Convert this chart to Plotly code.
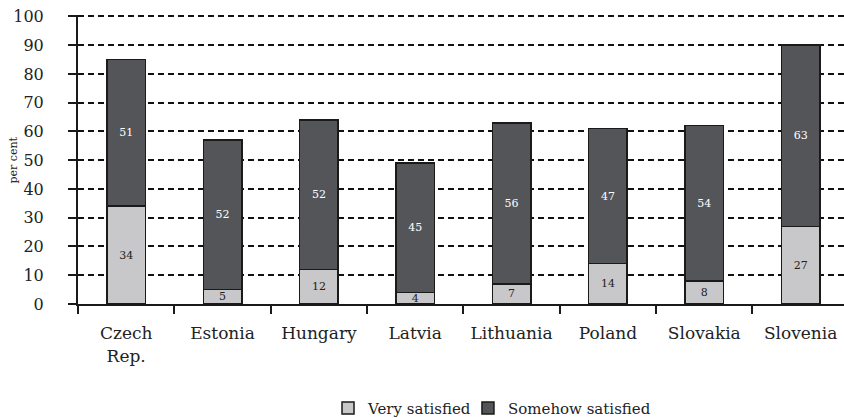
import plotly.graph_objects as go

countries = ["Czech<br>Rep.", "Estonia", "Hungary", "Latvia", "Lithuania", "Poland", "Slovakia", "Slovenia"]
very_satisfied = [34, 5, 12, 4, 7, 14, 8, 27]
somehow_satisfied = [51, 52, 52, 45, 56, 47, 54, 63]
y_ticks = [0, 10, 20, 30, 40, 50, 60, 70, 80, 90, 100]

FONT = "DejaVu Serif"

fig = go.Figure()
fig.add_trace(go.Bar(
    x=countries, y=very_satisfied, name="Very satisfied", legend="legend",
    marker=dict(color="#c8c8cb", line=dict(color="#1a1a1a", width=1.5)),
    text=very_satisfied, textposition="inside", insidetextanchor="middle",
    constraintext="none", textangle=0,
    textfont=dict(family=FONT, size=11, color="#222222"),
    width=0.4,
))
fig.add_trace(go.Bar(
    x=countries, y=somehow_satisfied, name="Somehow satisfied", legend="legend2",
    marker=dict(color="#545559", line=dict(color="#1a1a1a", width=1.5)),
    text=somehow_satisfied, textposition="inside", insidetextanchor="middle",
    constraintext="none", textangle=0,
    textfont=dict(family=FONT, size=11, color="#ffffff"),
    width=0.4,
))

legend_font = dict(family=FONT, size=15, color="#222222")
fig.update_layout(
    barmode="stack",
    width=844, height=418,
    margin=dict(l=78, r=0, t=15, b=114, autoexpand=False),
    plot_bgcolor="white", paper_bgcolor="white",
    font=dict(family=FONT, size=16, color="#222222"),
    showlegend=True,
    legend=dict(orientation="h", x=0.3264, xanchor="left", y=-0.361, yanchor="middle",
                font=legend_font, itemwidth=30, bgcolor="rgba(0,0,0,0)"),
    legend2=dict(orientation="h", x=0.5091, xanchor="left", y=-0.361, yanchor="middle",
                 font=legend_font, itemwidth=30, bgcolor="rgba(0,0,0,0)"),
    annotations=[dict(text="per cent", textangle=-90, xref="paper", yref="paper",
                      x=-0.0836, y=0.5, xanchor="center", yanchor="middle",
                      showarrow=False, font=dict(family=FONT, size=11, color="#222222"))],
)
fig.update_xaxes(
    range=[-0.5, 7.45], showline=True, linecolor="#1a1a1a", linewidth=2,
    ticks="outside", ticklen=8, tickwidth=2, tickcolor="#1a1a1a",
    tickson="boundaries", ticklabelstandoff=13, showgrid=False, automargin=False,
    tickfont=dict(family=FONT, size=17, color="#222222"),
)
fig.update_yaxes(
    range=[0, 100.5], tickvals=y_ticks, showline=True, linecolor="#1a1a1a", linewidth=2,
    ticks="outside", ticklen=8, tickwidth=2, tickcolor="#1a1a1a",
    showgrid=True, gridcolor="#111111", gridwidth=2, griddash="6px,4px",
    zeroline=False, ticklabelstandoff=21, automargin=False,
    tickfont=dict(family=FONT, size=16, color="#222222"),
)

fig.write_html("out.html", config={"displayModeBar": False},
               post_script="document.body.style.margin='0';document.body.style.overflow='hidden';")
